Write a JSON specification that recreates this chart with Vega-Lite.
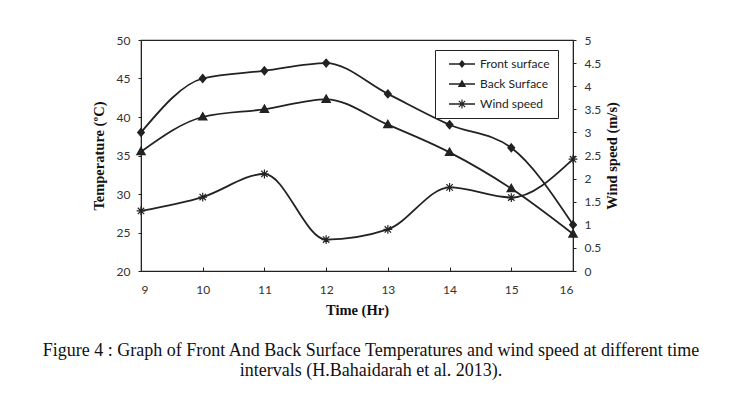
{
  "$schema": "https://vega.github.io/schema/vega-lite/v6.json",
  "autosize": {"type": "none"},
  "width": 432,
  "height": 231,
  "padding": {"left": 141, "top": 40, "right": 157, "bottom": 127},
  "background": "white",
  "config": {
    "view": {"stroke": "#222", "strokeWidth": 1.2},
    "axis": {"grid": false, "domainColor": "#222", "tickColor": "#222", "labelColor": "#333", "labelFont": "Lato", "labelFontSize": 12, "titleFont": "Liberation Serif", "titleFontWeight": "bold", "titleFontSize": 14.5, "titleColor": "#111"}
  },
  "title": {
    "text": ["Figure 4 : Graph of Front And Back Surface Temperatures and wind speed at different time", "intervals (H.Bahaidarah et al. 2013)."],
    "orient": "bottom",
    "anchor": "middle",
    "font": "Liberation Serif",
    "fontSize": 18,
    "fontWeight": "normal",
    "color": "#111",
    "lineHeight": 20,
    "offset": 25,
    "dx": 14
  },
  "data": {
    "values": [
      {"time": 9, "series": "Front surface", "temp": 38},
      {"time": 10, "series": "Front surface", "temp": 45},
      {"time": 11, "series": "Front surface", "temp": 46},
      {"time": 12, "series": "Front surface", "temp": 47},
      {"time": 13, "series": "Front surface", "temp": 43},
      {"time": 14, "series": "Front surface", "temp": 39},
      {"time": 15, "series": "Front surface", "temp": 36},
      {"time": 16, "series": "Front surface", "temp": 26},
      {"time": 9, "series": "Back Surface", "temp": 35.5},
      {"time": 10, "series": "Back Surface", "temp": 40},
      {"time": 11, "series": "Back Surface", "temp": 41},
      {"time": 12, "series": "Back Surface", "temp": 42.3},
      {"time": 13, "series": "Back Surface", "temp": 39},
      {"time": 14, "series": "Back Surface", "temp": 35.4},
      {"time": 15, "series": "Back Surface", "temp": 30.7},
      {"time": 16, "series": "Back Surface", "temp": 24.8},
      {"time": 9, "series": "Wind speed", "wind": 1.3},
      {"time": 10, "series": "Wind speed", "wind": 1.6},
      {"time": 11, "series": "Wind speed", "wind": 2.1},
      {"time": 12, "series": "Wind speed", "wind": 0.68},
      {"time": 13, "series": "Wind speed", "wind": 0.9},
      {"time": 14, "series": "Wind speed", "wind": 1.81},
      {"time": 15, "series": "Wind speed", "wind": 1.59},
      {"time": 16, "series": "Wind speed", "wind": 2.42}
    ]
  },
  "encoding": {
    "x": {
      "field": "time", "type": "quantitative",
      "scale": {"domain": [9, 16], "nice": false, "zero": false},
      "axis": {"values": [9, 10, 11, 12, 13, 14, 15, 16], "title": "Time (Hr)", "tickSize": -4, "labelPadding": 17, "titlePadding": 8}
    }
  },
  "layer": [
    {
      "transform": [{"filter": "datum.series !== 'Wind speed'"}],
      "encoding": {
        "y": {
          "field": "temp", "type": "quantitative",
          "scale": {"domain": [20, 50], "nice": false, "zero": false},
          "axis": {"values": [20, 25, 30, 35, 40, 45, 50], "title": "Temperature (ºC)", "tickSize": 3, "labelPadding": 8, "titlePadding": 10}
        }
      },
      "layer": [
        {"mark": {"type": "line", "interpolate": "monotone", "color": "#222", "strokeWidth": 1.8}, "encoding": {"detail": {"field": "series"}}},
        {"transform": [{"filter": "datum.series === 'Front surface'"}],
         "mark": {"type": "point", "filled": true, "color": "#222", "stroke": "#222", "size": 64, "opacity": 1, "strokeWidth": 1.2, "shape": "M0,-1L0.85,0L0,1L-0.85,0Z"},
         "encoding": {}},
        {"transform": [{"filter": "datum.series === 'Back Surface'"}],
         "mark": {"type": "point", "filled": true, "color": "#222", "stroke": "#222", "size": 64, "opacity": 1, "strokeWidth": 1.2, "shape": "M0,-1.1L1.05,0.75L-1.05,0.75Z"},
         "encoding": {}},
        {"mark": {"type": "point", "filled": true, "color": "#222", "size": 64, "opacity": 0},
         "encoding": {"shape": {"field": "series", "type": "nominal",
           "scale": {"domain": ["Front surface", "Back Surface", "Wind speed"], "range": [
             "M-3.25,-0.2H3.25V0.2H-3.25ZM0,-1L0.85,0L0,1L-0.85,0Z",
             "M-3.25,-0.2H3.25V0.2H-3.25ZM0,-1.1L1.05,0.75L-1.05,0.75Z",
             "M-3.25,-0.2H3.25V0.2H-3.25ZM-0.15,-1.1H0.15V1.1H-0.15ZM-0.694,-0.906L0.906,0.694L0.694,0.906L-0.906,-0.694ZM-0.906,0.694L0.694,-0.906L0.906,-0.694L-0.694,0.906ZM-1.1,-0.15H1.1V0.15H-1.1Z"
           ]},
           "legend": {
             "title": null, "orient": "none", "legendX": 294, "legendY": 10,
             "strokeColor": "#222", "padding": 8, "fillColor": "white",
             "labelFont": "Lato", "labelFontSize": 12, "labelColor": "#222",
             "symbolSize": 64, "symbolOpacity": 1, "symbolFillColor": "#222", "symbolStrokeColor": "#222", "symbolStrokeWidth": 0,
             "labelOffset": 12, "symbolOffset": 13, "rowPadding": 8
           }}}}
      ]
    },
    {
      "transform": [{"filter": "datum.series === 'Wind speed'"}],
      "encoding": {
        "y": {
          "field": "wind", "type": "quantitative",
          "scale": {"domain": [0, 5], "nice": false},
          "axis": {"orient": "right", "values": [0, 0.5, 1, 1.5, 2, 2.5, 3, 3.5, 4, 4.5, 5], "format": ".1~f", "title": "Wind speed (m/s)", "titleAngle": 270, "titleBaseline": "top", "tickSize": 3, "labelPadding": 8, "titlePadding": 5}
        }
      },
      "layer": [
        {"mark": {"type": "line", "interpolate": "monotone", "color": "#222", "strokeWidth": 1.8}, "encoding": {"detail": {"field": "series"}}},
        {"mark": {"type": "point", "filled": false, "color": "#222", "size": 64, "opacity": 1, "strokeWidth": 1.2, "shape": "M-1.1,0H1.1M0,-1.1V1.1M-0.8,-0.8L0.8,0.8M-0.8,0.8L0.8,-0.8"},
         "encoding": {}}
      ]
    }
  ],
  "resolve": {"scale": {"y": "independent"}}
}
